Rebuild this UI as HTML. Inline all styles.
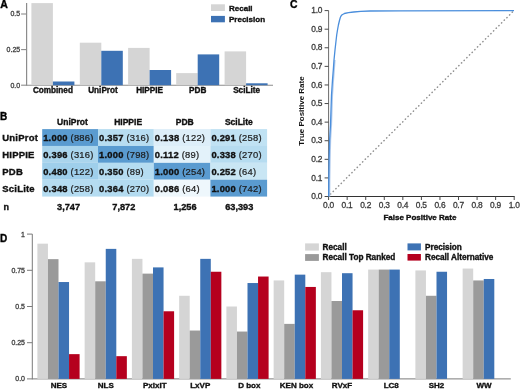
<!DOCTYPE html>
<html><head><meta charset="utf-8"><style>
html,body{margin:0;padding:0;background:#fff;}
svg{display:block;font-family:"Liberation Sans", sans-serif;will-change:transform;}
</style></head><body>
<svg width="520" height="389" viewBox="0 0 520 389">
<rect width="520" height="389" fill="#fff"/>
<text x="0.20" y="7.70" font-size="10.5" font-weight="bold" text-anchor="start" fill="#000" stroke="#000" stroke-width="0.35" >A</text>
<line x1="26.60" y1="3.10" x2="26.60" y2="85.70" stroke="#8c8c8c" stroke-width="1.2" />
<line x1="26.60" y1="85.20" x2="273.00" y2="85.20" stroke="#8c8c8c" stroke-width="1.1" />
<line x1="21.10" y1="14.00" x2="26.60" y2="14.00" stroke="#8c8c8c" stroke-width="1.1" />
<text x="20.20" y="16.30" font-size="7" font-weight="normal" text-anchor="end" fill="#3a3a3a" stroke="#3a3a3a" stroke-width="0.28" >0.5</text>
<line x1="21.10" y1="49.60" x2="26.60" y2="49.60" stroke="#8c8c8c" stroke-width="1.1" />
<text x="20.20" y="51.90" font-size="7" font-weight="normal" text-anchor="end" fill="#3a3a3a" stroke="#3a3a3a" stroke-width="0.28" >0.25</text>
<line x1="21.10" y1="85.20" x2="26.60" y2="85.20" stroke="#8c8c8c" stroke-width="1.1" />
<text x="20.20" y="87.50" font-size="7" font-weight="normal" text-anchor="end" fill="#3a3a3a" stroke="#3a3a3a" stroke-width="0.28" >0.0</text>
<rect x="31.40" y="3.10" width="21.50" height="82.10" fill="#d5d5d5"/>
<rect x="52.90" y="81.50" width="21.50" height="3.70" fill="#3d72b4"/>
<text x="52.90" y="93.00" font-size="8.2" font-weight="bold" text-anchor="middle" fill="#111" stroke="#111" stroke-width="0.35" >Combined</text>
<rect x="79.80" y="42.70" width="21.50" height="42.50" fill="#d5d5d5"/>
<rect x="101.30" y="50.80" width="21.50" height="34.40" fill="#3d72b4"/>
<text x="103.00" y="93.00" font-size="8.2" font-weight="bold" text-anchor="middle" fill="#111" stroke="#111" stroke-width="0.35" >UniProt</text>
<rect x="128.10" y="47.90" width="21.50" height="37.30" fill="#d5d5d5"/>
<rect x="149.60" y="70.00" width="21.50" height="15.20" fill="#3d72b4"/>
<text x="149.60" y="93.00" font-size="8.2" font-weight="bold" text-anchor="middle" fill="#111" stroke="#111" stroke-width="0.35" >HIPPIE</text>
<rect x="176.20" y="73.10" width="21.50" height="12.10" fill="#d5d5d5"/>
<rect x="197.70" y="54.40" width="21.50" height="30.80" fill="#3d72b4"/>
<text x="197.70" y="93.00" font-size="8.2" font-weight="bold" text-anchor="middle" fill="#111" stroke="#111" stroke-width="0.35" >PDB</text>
<rect x="224.60" y="51.40" width="21.50" height="33.80" fill="#d5d5d5"/>
<rect x="246.10" y="83.30" width="21.50" height="1.90" fill="#3d72b4"/>
<text x="246.60" y="93.00" font-size="8.2" font-weight="bold" text-anchor="middle" fill="#111" stroke="#111" stroke-width="0.35" >SciLite</text>
<rect x="211.00" y="4.30" width="13.90" height="6.70" fill="#d5d5d5"/>
<rect x="211.00" y="15.90" width="13.90" height="6.40" fill="#3d72b4"/>
<text x="229.00" y="10.90" font-size="8.0" font-weight="bold" text-anchor="start" fill="#111" stroke="#111" stroke-width="0.35" >Recall</text>
<text x="229.00" y="22.30" font-size="8.0" font-weight="bold" text-anchor="start" fill="#111" stroke="#111" stroke-width="0.35" >Precision</text>
<text x="0.10" y="120.20" font-size="10" font-weight="bold" text-anchor="start" fill="#000" stroke="#000" stroke-width="0.35" >B</text>
<text x="72.40" y="125.30" font-size="8.5" font-weight="bold" text-anchor="middle" fill="#111" stroke="#111" stroke-width="0.35" >UniProt</text>
<text x="128.15" y="125.30" font-size="8.5" font-weight="bold" text-anchor="middle" fill="#111" stroke="#111" stroke-width="0.35" >HIPPIE</text>
<text x="184.75" y="125.30" font-size="8.5" font-weight="bold" text-anchor="middle" fill="#111" stroke="#111" stroke-width="0.35" >PDB</text>
<text x="238.85" y="125.30" font-size="8.5" font-weight="bold" text-anchor="middle" fill="#111" stroke="#111" stroke-width="0.35" >SciLite</text>
<rect x="42.20" y="129.10" width="55.80" height="16.87" fill="#5a9bd0"/>
<rect x="98.00" y="129.10" width="55.80" height="16.87" fill="#b7ddf1"/>
<rect x="153.80" y="129.10" width="56.60" height="16.87" fill="#ddeef9"/>
<rect x="210.40" y="129.10" width="56.70" height="16.87" fill="#c0e2f3"/>
<rect x="42.20" y="145.97" width="55.80" height="16.87" fill="#aad5ed"/>
<rect x="98.00" y="145.97" width="55.80" height="16.87" fill="#5a9bd0"/>
<rect x="153.80" y="145.97" width="56.60" height="16.87" fill="#e3f2fa"/>
<rect x="210.40" y="145.97" width="56.70" height="16.87" fill="#b6dcf0"/>
<rect x="42.20" y="162.84" width="55.80" height="16.87" fill="#9fcfeb"/>
<rect x="98.00" y="162.84" width="55.80" height="16.87" fill="#b5dcf1"/>
<rect x="153.80" y="162.84" width="56.60" height="16.87" fill="#5a9bd0"/>
<rect x="210.40" y="162.84" width="56.70" height="16.87" fill="#c9e6f4"/>
<rect x="42.20" y="179.71" width="55.80" height="16.87" fill="#b5dcf1"/>
<rect x="98.00" y="179.71" width="55.80" height="16.87" fill="#b3dbf0"/>
<rect x="153.80" y="179.71" width="56.60" height="16.87" fill="#eef7fc"/>
<rect x="210.40" y="179.71" width="56.70" height="16.87" fill="#5a9bd0"/>
<text x="43.20" y="141.20" font-size="9.4" letter-spacing="0.22" fill="#111"><tspan font-weight="bold" stroke="#111" stroke-width="0.35">1.000</tspan> <tspan fill="#1c1c1c" stroke="#1c1c1c" stroke-width="0.22">(886)</tspan></text>
<text x="99.00" y="141.20" font-size="9.4" letter-spacing="0.22" fill="#111"><tspan font-weight="bold" stroke="#111" stroke-width="0.35">0.357</tspan> <tspan fill="#1c1c1c" stroke="#1c1c1c" stroke-width="0.22">(316)</tspan></text>
<text x="154.80" y="141.20" font-size="9.4" letter-spacing="0.22" fill="#111"><tspan font-weight="bold" stroke="#111" stroke-width="0.35">0.138</tspan> <tspan fill="#1c1c1c" stroke="#1c1c1c" stroke-width="0.22">(122)</tspan></text>
<text x="211.40" y="141.20" font-size="9.4" letter-spacing="0.22" fill="#111"><tspan font-weight="bold" stroke="#111" stroke-width="0.35">0.291</tspan> <tspan fill="#1c1c1c" stroke="#1c1c1c" stroke-width="0.22">(258)</tspan></text>
<text x="43.20" y="158.07" font-size="9.4" letter-spacing="0.22" fill="#111"><tspan font-weight="bold" stroke="#111" stroke-width="0.35">0.396</tspan> <tspan fill="#1c1c1c" stroke="#1c1c1c" stroke-width="0.22">(316)</tspan></text>
<text x="99.00" y="158.07" font-size="9.4" letter-spacing="0.22" fill="#111"><tspan font-weight="bold" stroke="#111" stroke-width="0.35">1.000</tspan> <tspan fill="#1c1c1c" stroke="#1c1c1c" stroke-width="0.22">(798)</tspan></text>
<text x="154.80" y="158.07" font-size="9.4" letter-spacing="0.22" fill="#111"><tspan font-weight="bold" stroke="#111" stroke-width="0.35">0.112</tspan> <tspan fill="#1c1c1c" stroke="#1c1c1c" stroke-width="0.22">(89)</tspan></text>
<text x="211.40" y="158.07" font-size="9.4" letter-spacing="0.22" fill="#111"><tspan font-weight="bold" stroke="#111" stroke-width="0.35">0.338</tspan> <tspan fill="#1c1c1c" stroke="#1c1c1c" stroke-width="0.22">(270)</tspan></text>
<text x="43.20" y="174.94" font-size="9.4" letter-spacing="0.22" fill="#111"><tspan font-weight="bold" stroke="#111" stroke-width="0.35">0.480</tspan> <tspan fill="#1c1c1c" stroke="#1c1c1c" stroke-width="0.22">(122)</tspan></text>
<text x="99.00" y="174.94" font-size="9.4" letter-spacing="0.22" fill="#111"><tspan font-weight="bold" stroke="#111" stroke-width="0.35">0.350</tspan> <tspan fill="#1c1c1c" stroke="#1c1c1c" stroke-width="0.22">(89)</tspan></text>
<text x="154.80" y="174.94" font-size="9.4" letter-spacing="0.22" fill="#111"><tspan font-weight="bold" stroke="#111" stroke-width="0.35">1.000</tspan> <tspan fill="#1c1c1c" stroke="#1c1c1c" stroke-width="0.22">(254)</tspan></text>
<text x="211.40" y="174.94" font-size="9.4" letter-spacing="0.22" fill="#111"><tspan font-weight="bold" stroke="#111" stroke-width="0.35">0.252</tspan> <tspan fill="#1c1c1c" stroke="#1c1c1c" stroke-width="0.22">(64)</tspan></text>
<text x="43.20" y="191.81" font-size="9.4" letter-spacing="0.22" fill="#111"><tspan font-weight="bold" stroke="#111" stroke-width="0.35">0.348</tspan> <tspan fill="#1c1c1c" stroke="#1c1c1c" stroke-width="0.22">(258)</tspan></text>
<text x="99.00" y="191.81" font-size="9.4" letter-spacing="0.22" fill="#111"><tspan font-weight="bold" stroke="#111" stroke-width="0.35">0.364</tspan> <tspan fill="#1c1c1c" stroke="#1c1c1c" stroke-width="0.22">(270)</tspan></text>
<text x="154.80" y="191.81" font-size="9.4" letter-spacing="0.22" fill="#111"><tspan font-weight="bold" stroke="#111" stroke-width="0.35">0.086</tspan> <tspan fill="#1c1c1c" stroke="#1c1c1c" stroke-width="0.22">(64)</tspan></text>
<text x="211.40" y="191.81" font-size="9.4" letter-spacing="0.22" fill="#111"><tspan font-weight="bold" stroke="#111" stroke-width="0.35">1.000</tspan> <tspan fill="#1c1c1c" stroke="#1c1c1c" stroke-width="0.22">(742)</tspan></text>
<text x="2.30" y="141.20" font-size="9.5" font-weight="bold" text-anchor="start" fill="#111" stroke="#111" stroke-width="0.35" letter-spacing="0.2">UniProt</text>
<text x="2.30" y="158.07" font-size="9.5" font-weight="bold" text-anchor="start" fill="#111" stroke="#111" stroke-width="0.35" letter-spacing="0.2">HIPPIE</text>
<text x="2.30" y="174.94" font-size="9.5" font-weight="bold" text-anchor="start" fill="#111" stroke="#111" stroke-width="0.35" letter-spacing="0.2">PDB</text>
<text x="2.30" y="191.81" font-size="9.5" font-weight="bold" text-anchor="start" fill="#111" stroke="#111" stroke-width="0.35" letter-spacing="0.2">SciLite</text>
<text x="3.40" y="210.10" font-size="9" font-weight="bold" text-anchor="start" fill="#111" stroke="#111" stroke-width="0.35" >n</text>
<text x="57.10" y="210.40" font-size="9.2" font-weight="bold" text-anchor="start" fill="#111" stroke="#111" stroke-width="0.35" >3,747</text>
<text x="112.30" y="210.40" font-size="9.2" font-weight="bold" text-anchor="start" fill="#111" stroke="#111" stroke-width="0.35" >7,872</text>
<text x="173.60" y="210.40" font-size="9.2" font-weight="bold" text-anchor="start" fill="#111" stroke="#111" stroke-width="0.35" >1,256</text>
<text x="225.20" y="210.40" font-size="9.2" font-weight="bold" text-anchor="start" fill="#111" stroke="#111" stroke-width="0.35" >63,393</text>
<text x="289.90" y="8.30" font-size="10.4" font-weight="bold" text-anchor="start" fill="#000" stroke="#000" stroke-width="0.35" >C</text>
<line x1="328.60" y1="10.60" x2="328.60" y2="197.00" stroke="#6a6a6a" stroke-width="1" />
<line x1="328.10" y1="196.50" x2="514.70" y2="196.50" stroke="#333" stroke-width="1" />
<line x1="324.60" y1="196.50" x2="328.60" y2="196.50" stroke="#4a4a4a" stroke-width="1" />
<text x="322.20" y="199.20" font-size="8.4" font-weight="normal" text-anchor="end" fill="#3a3a3a" stroke="#3a3a3a" stroke-width="0.28" letter-spacing="-0.25">0.0</text>
<line x1="328.60" y1="196.50" x2="328.60" y2="200.00" stroke="#4a4a4a" stroke-width="1" />
<text x="328.50" y="207.60" font-size="8.4" font-weight="normal" text-anchor="middle" fill="#3a3a3a" stroke="#3a3a3a" stroke-width="0.28" letter-spacing="-0.25">0.0</text>
<line x1="324.60" y1="177.91" x2="328.60" y2="177.91" stroke="#4a4a4a" stroke-width="1" />
<text x="322.20" y="180.61" font-size="8.4" font-weight="normal" text-anchor="end" fill="#3a3a3a" stroke="#3a3a3a" stroke-width="0.28" letter-spacing="-0.25">0.1</text>
<line x1="347.16" y1="196.50" x2="347.16" y2="200.00" stroke="#4a4a4a" stroke-width="1" />
<text x="347.06" y="207.60" font-size="8.4" font-weight="normal" text-anchor="middle" fill="#3a3a3a" stroke="#3a3a3a" stroke-width="0.28" letter-spacing="-0.25">0.1</text>
<line x1="324.60" y1="159.32" x2="328.60" y2="159.32" stroke="#4a4a4a" stroke-width="1" />
<text x="322.20" y="162.02" font-size="8.4" font-weight="normal" text-anchor="end" fill="#3a3a3a" stroke="#3a3a3a" stroke-width="0.28" letter-spacing="-0.25">0.2</text>
<line x1="365.72" y1="196.50" x2="365.72" y2="200.00" stroke="#4a4a4a" stroke-width="1" />
<text x="365.62" y="207.60" font-size="8.4" font-weight="normal" text-anchor="middle" fill="#3a3a3a" stroke="#3a3a3a" stroke-width="0.28" letter-spacing="-0.25">0.2</text>
<line x1="324.60" y1="140.73" x2="328.60" y2="140.73" stroke="#4a4a4a" stroke-width="1" />
<text x="322.20" y="143.43" font-size="8.4" font-weight="normal" text-anchor="end" fill="#3a3a3a" stroke="#3a3a3a" stroke-width="0.28" letter-spacing="-0.25">0.3</text>
<line x1="384.28" y1="196.50" x2="384.28" y2="200.00" stroke="#4a4a4a" stroke-width="1" />
<text x="384.18" y="207.60" font-size="8.4" font-weight="normal" text-anchor="middle" fill="#3a3a3a" stroke="#3a3a3a" stroke-width="0.28" letter-spacing="-0.25">0.3</text>
<line x1="324.60" y1="122.14" x2="328.60" y2="122.14" stroke="#4a4a4a" stroke-width="1" />
<text x="322.20" y="124.84" font-size="8.4" font-weight="normal" text-anchor="end" fill="#3a3a3a" stroke="#3a3a3a" stroke-width="0.28" letter-spacing="-0.25">0.4</text>
<line x1="402.84" y1="196.50" x2="402.84" y2="200.00" stroke="#4a4a4a" stroke-width="1" />
<text x="402.74" y="207.60" font-size="8.4" font-weight="normal" text-anchor="middle" fill="#3a3a3a" stroke="#3a3a3a" stroke-width="0.28" letter-spacing="-0.25">0.4</text>
<line x1="324.60" y1="103.55" x2="328.60" y2="103.55" stroke="#4a4a4a" stroke-width="1" />
<text x="322.20" y="106.25" font-size="8.4" font-weight="normal" text-anchor="end" fill="#3a3a3a" stroke="#3a3a3a" stroke-width="0.28" letter-spacing="-0.25">0.5</text>
<line x1="421.40" y1="196.50" x2="421.40" y2="200.00" stroke="#4a4a4a" stroke-width="1" />
<text x="421.30" y="207.60" font-size="8.4" font-weight="normal" text-anchor="middle" fill="#3a3a3a" stroke="#3a3a3a" stroke-width="0.28" letter-spacing="-0.25">0.5</text>
<line x1="324.60" y1="84.96" x2="328.60" y2="84.96" stroke="#4a4a4a" stroke-width="1" />
<text x="322.20" y="87.66" font-size="8.4" font-weight="normal" text-anchor="end" fill="#3a3a3a" stroke="#3a3a3a" stroke-width="0.28" letter-spacing="-0.25">0.6</text>
<line x1="439.96" y1="196.50" x2="439.96" y2="200.00" stroke="#4a4a4a" stroke-width="1" />
<text x="439.86" y="207.60" font-size="8.4" font-weight="normal" text-anchor="middle" fill="#3a3a3a" stroke="#3a3a3a" stroke-width="0.28" letter-spacing="-0.25">0.6</text>
<line x1="324.60" y1="66.37" x2="328.60" y2="66.37" stroke="#4a4a4a" stroke-width="1" />
<text x="322.20" y="69.07" font-size="8.4" font-weight="normal" text-anchor="end" fill="#3a3a3a" stroke="#3a3a3a" stroke-width="0.28" letter-spacing="-0.25">0.7</text>
<line x1="458.52" y1="196.50" x2="458.52" y2="200.00" stroke="#4a4a4a" stroke-width="1" />
<text x="458.42" y="207.60" font-size="8.4" font-weight="normal" text-anchor="middle" fill="#3a3a3a" stroke="#3a3a3a" stroke-width="0.28" letter-spacing="-0.25">0.7</text>
<line x1="324.60" y1="47.78" x2="328.60" y2="47.78" stroke="#4a4a4a" stroke-width="1" />
<text x="322.20" y="50.48" font-size="8.4" font-weight="normal" text-anchor="end" fill="#3a3a3a" stroke="#3a3a3a" stroke-width="0.28" letter-spacing="-0.25">0.8</text>
<line x1="477.08" y1="196.50" x2="477.08" y2="200.00" stroke="#4a4a4a" stroke-width="1" />
<text x="476.98" y="207.60" font-size="8.4" font-weight="normal" text-anchor="middle" fill="#3a3a3a" stroke="#3a3a3a" stroke-width="0.28" letter-spacing="-0.25">0.8</text>
<line x1="324.60" y1="29.19" x2="328.60" y2="29.19" stroke="#4a4a4a" stroke-width="1" />
<text x="322.20" y="31.89" font-size="8.4" font-weight="normal" text-anchor="end" fill="#3a3a3a" stroke="#3a3a3a" stroke-width="0.28" letter-spacing="-0.25">0.9</text>
<line x1="495.64" y1="196.50" x2="495.64" y2="200.00" stroke="#4a4a4a" stroke-width="1" />
<text x="495.54" y="207.60" font-size="8.4" font-weight="normal" text-anchor="middle" fill="#3a3a3a" stroke="#3a3a3a" stroke-width="0.28" letter-spacing="-0.25">0.9</text>
<line x1="324.60" y1="10.60" x2="328.60" y2="10.60" stroke="#4a4a4a" stroke-width="1" />
<text x="322.20" y="13.30" font-size="8.4" font-weight="normal" text-anchor="end" fill="#3a3a3a" stroke="#3a3a3a" stroke-width="0.28" letter-spacing="-0.25">1.0</text>
<line x1="514.20" y1="196.50" x2="514.20" y2="200.00" stroke="#4a4a4a" stroke-width="1" />
<text x="514.10" y="207.60" font-size="8.4" font-weight="normal" text-anchor="middle" fill="#3a3a3a" stroke="#3a3a3a" stroke-width="0.28" letter-spacing="-0.25">1.0</text>
<text x="419.90" y="220.20" font-size="8" font-weight="bold" text-anchor="middle" fill="#111" stroke="#111" stroke-width="0.35" >False Positive Rate</text>
<text x="0" y="0" font-size="8" font-weight="bold" text-anchor="middle" fill="#111" transform="translate(304.2,111) rotate(-90)">True Positive Rate</text>
<line x1="330.50" y1="194.10" x2="514.20" y2="10.30" stroke="#8e8e8e" stroke-width="1.45" stroke-dasharray="0.3 3.48" stroke-linecap="round"/>
<path d="M329.60,196.40 L329.70,180.00 L330.00,160.00 L330.50,140.00 L331.40,125.00 L331.90,110.00 L332.40,95.00 L333.40,80.00 L334.20,70.00 L334.90,60.00" fill="none" stroke="#b3cced" stroke-width="1.4" stroke-linejoin="round"/>
<path d="M328.70,196.40 L328.80,180.00 L329.10,160.00 L329.60,140.00 L330.50,125.00 L331.00,110.00 L331.50,95.00 L332.50,80.00 L333.30,70.00 L334.00,60.00 L335.00,50.00 L335.90,42.00 L336.70,35.00 L337.50,30.00 L338.40,25.00 L339.60,20.00 L340.30,17.60 L341.00,16.10 L341.80,15.00 L344.40,13.50 L348.50,12.60 L353.70,12.00 L360.80,11.40 L370.00,11.00 L400.00,10.80 L514.00,10.70" fill="none" stroke="#4a8edc" stroke-width="1.3" stroke-linejoin="round"/>
<text x="0.10" y="241.90" font-size="10" font-weight="bold" text-anchor="start" fill="#000" stroke="#000" stroke-width="0.35" >D</text>
<line x1="32.30" y1="234.10" x2="32.30" y2="379.40" stroke="#7a7a7a" stroke-width="1" />
<line x1="32.30" y1="378.90" x2="510.80" y2="378.90" stroke="#7a7a7a" stroke-width="1" />
<line x1="27.00" y1="234.10" x2="32.30" y2="234.10" stroke="#7a7a7a" stroke-width="1" />
<text x="25.00" y="236.60" font-size="7" font-weight="normal" text-anchor="end" fill="#3a3a3a" stroke="#3a3a3a" stroke-width="0.28" >1</text>
<line x1="27.00" y1="270.30" x2="32.30" y2="270.30" stroke="#7a7a7a" stroke-width="1" />
<text x="25.00" y="272.80" font-size="7" font-weight="normal" text-anchor="end" fill="#3a3a3a" stroke="#3a3a3a" stroke-width="0.28" >0.75</text>
<line x1="27.00" y1="306.50" x2="32.30" y2="306.50" stroke="#7a7a7a" stroke-width="1" />
<text x="25.00" y="309.00" font-size="7" font-weight="normal" text-anchor="end" fill="#3a3a3a" stroke="#3a3a3a" stroke-width="0.28" >0.5</text>
<line x1="27.00" y1="342.70" x2="32.30" y2="342.70" stroke="#7a7a7a" stroke-width="1" />
<text x="25.00" y="345.20" font-size="7" font-weight="normal" text-anchor="end" fill="#3a3a3a" stroke="#3a3a3a" stroke-width="0.28" >0.25</text>
<line x1="27.00" y1="378.90" x2="32.30" y2="378.90" stroke="#7a7a7a" stroke-width="1" />
<text x="25.00" y="381.40" font-size="7" font-weight="normal" text-anchor="end" fill="#3a3a3a" stroke="#3a3a3a" stroke-width="0.28" >0.0</text>
<rect x="37.40" y="243.66" width="10.55" height="135.24" fill="#d5d5d5"/>
<rect x="47.95" y="259.15" width="10.55" height="119.75" fill="#9a9a9a"/>
<rect x="58.50" y="282.03" width="10.55" height="96.87" fill="#3d72b4"/>
<rect x="69.05" y="354.14" width="10.55" height="24.76" fill="#b5001e"/>
<text x="58.90" y="388.30" font-size="8" font-weight="bold" text-anchor="middle" fill="#111" stroke="#111" stroke-width="0.35" >NES</text>
<rect x="84.65" y="262.34" width="10.55" height="116.56" fill="#d5d5d5"/>
<rect x="95.20" y="281.30" width="10.55" height="97.60" fill="#9a9a9a"/>
<rect x="105.75" y="248.87" width="10.55" height="130.03" fill="#3d72b4"/>
<rect x="116.30" y="356.17" width="10.55" height="22.73" fill="#b5001e"/>
<text x="105.75" y="388.30" font-size="8" font-weight="bold" text-anchor="middle" fill="#111" stroke="#111" stroke-width="0.35" >NLS</text>
<rect x="131.90" y="258.86" width="10.55" height="120.04" fill="#d5d5d5"/>
<rect x="142.45" y="273.63" width="10.55" height="105.27" fill="#9a9a9a"/>
<rect x="153.00" y="267.40" width="10.55" height="111.50" fill="#3d72b4"/>
<rect x="163.55" y="311.28" width="10.55" height="67.62" fill="#b5001e"/>
<text x="154.80" y="388.30" font-size="8" font-weight="bold" text-anchor="middle" fill="#111" stroke="#111" stroke-width="0.35" >PxIxIT</text>
<rect x="179.15" y="295.78" width="10.55" height="83.12" fill="#d5d5d5"/>
<rect x="189.70" y="330.54" width="10.55" height="48.36" fill="#9a9a9a"/>
<rect x="200.25" y="258.86" width="10.55" height="120.04" fill="#3d72b4"/>
<rect x="210.80" y="271.75" width="10.55" height="107.15" fill="#b5001e"/>
<text x="200.25" y="388.30" font-size="8" font-weight="bold" text-anchor="middle" fill="#111" stroke="#111" stroke-width="0.35" >LxVP</text>
<rect x="226.40" y="306.50" width="10.55" height="72.40" fill="#d5d5d5"/>
<rect x="236.95" y="331.55" width="10.55" height="47.35" fill="#9a9a9a"/>
<rect x="247.50" y="283.04" width="10.55" height="95.86" fill="#3d72b4"/>
<rect x="258.05" y="276.53" width="10.55" height="102.37" fill="#b5001e"/>
<text x="249.30" y="388.30" font-size="8" font-weight="bold" text-anchor="middle" fill="#111" stroke="#111" stroke-width="0.35" >D box</text>
<rect x="273.65" y="280.44" width="10.55" height="98.46" fill="#d5d5d5"/>
<rect x="284.20" y="323.88" width="10.55" height="55.02" fill="#9a9a9a"/>
<rect x="294.75" y="274.64" width="10.55" height="104.26" fill="#3d72b4"/>
<rect x="305.30" y="286.95" width="10.55" height="91.95" fill="#b5001e"/>
<text x="296.45" y="388.30" font-size="8" font-weight="bold" text-anchor="middle" fill="#111" stroke="#111" stroke-width="0.35" >KEN box</text>
<rect x="320.90" y="272.18" width="10.55" height="106.72" fill="#d5d5d5"/>
<rect x="331.45" y="301.00" width="10.55" height="77.90" fill="#9a9a9a"/>
<rect x="342.00" y="273.20" width="10.55" height="105.70" fill="#3d72b4"/>
<rect x="352.55" y="310.26" width="10.55" height="68.64" fill="#b5001e"/>
<text x="342.00" y="388.30" font-size="8" font-weight="bold" text-anchor="middle" fill="#111" stroke="#111" stroke-width="0.35" >RVxF</text>
<rect x="368.15" y="269.58" width="10.55" height="109.32" fill="#d5d5d5"/>
<rect x="378.70" y="269.58" width="10.55" height="109.32" fill="#9a9a9a"/>
<rect x="389.25" y="269.58" width="10.55" height="109.32" fill="#3d72b4"/>
<text x="391.25" y="388.30" font-size="8" font-weight="bold" text-anchor="middle" fill="#111" stroke="#111" stroke-width="0.35" >LC8</text>
<rect x="415.40" y="270.44" width="10.55" height="108.46" fill="#d5d5d5"/>
<rect x="425.95" y="295.78" width="10.55" height="83.12" fill="#9a9a9a"/>
<rect x="436.50" y="271.75" width="10.55" height="107.15" fill="#3d72b4"/>
<text x="436.50" y="388.30" font-size="8" font-weight="bold" text-anchor="middle" fill="#111" stroke="#111" stroke-width="0.35" >SH2</text>
<rect x="462.65" y="268.56" width="10.55" height="110.34" fill="#d5d5d5"/>
<rect x="473.20" y="280.44" width="10.55" height="98.46" fill="#9a9a9a"/>
<rect x="483.75" y="278.99" width="10.55" height="99.91" fill="#3d72b4"/>
<text x="484.05" y="388.30" font-size="8" font-weight="bold" text-anchor="middle" fill="#111" stroke="#111" stroke-width="0.35" >WW</text>
<rect x="305.10" y="243.40" width="13.80" height="7.20" fill="#d5d5d5"/>
<rect x="305.10" y="254.10" width="13.80" height="6.80" fill="#9a9a9a"/>
<rect x="407.50" y="243.40" width="13.40" height="7.00" fill="#3d72b4"/>
<rect x="407.50" y="254.00" width="13.40" height="6.60" fill="#b5001e"/>
<text x="322.60" y="249.80" font-size="8.2" font-weight="bold" text-anchor="start" fill="#111" stroke="#111" stroke-width="0.35" >Recall</text>
<text x="322.60" y="260.40" font-size="8.2" font-weight="bold" text-anchor="start" fill="#111" stroke="#111" stroke-width="0.35" >Recall Top Ranked</text>
<text x="425.00" y="249.80" font-size="8.2" font-weight="bold" text-anchor="start" fill="#111" stroke="#111" stroke-width="0.35" >Precision</text>
<text x="425.00" y="260.40" font-size="8.2" font-weight="bold" text-anchor="start" fill="#111" stroke="#111" stroke-width="0.35" >Recall Alternative</text>
</svg>
</body></html>
